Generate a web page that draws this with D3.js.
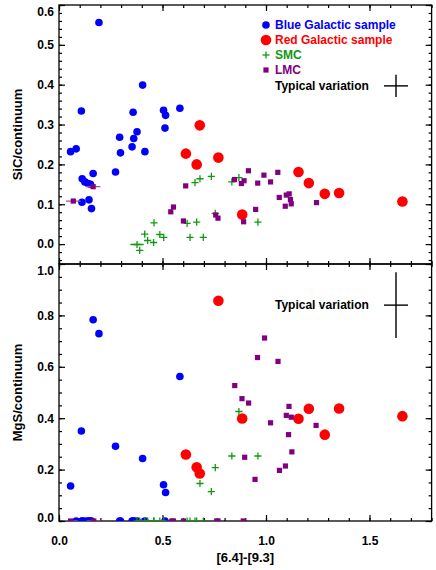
<!DOCTYPE html>
<html>
<head>
<meta charset="utf-8">
<script src="https://cdn.jsdelivr.net/npm/d3@7"></script>
<style>
  body { margin: 0; background: #fff; }
  text { font-family: "Liberation Sans", Arial, sans-serif; font-weight: bold; }
</style>
</head>
<body>
<div id="chart"></div>
<script>
// Blue Galactic sample (same stars in both panels)
const blueX   = [0.193,0.056,0.083,0.108,0.112,0.125,0.140,0.152,0.165,0.111,0.145,0.157,0.273,0.293,0.297,0.353,0.358,0.361,0.377,0.404,0.415,0.505,0.515,0.512,0.584];
const blueSiC = [0.556,0.232,0.239,0.334,0.164,0.156,0.152,0.150,0.177,0.105,0.111,0.089,0.181,0.268,0.229,0.244,0.331,0.265,0.282,0.399,0.232,0.336,0.323,0.291,0.341];
const blueMgS = [0.729,0.136,0,0.350,0,0,0,0,0.783,0,0,0,0.291,0,0,0,0,0,0,0.243,0,0.141,0.111,0,0.562];

// Red Galactic sample
const redX   = [0.613,0.665,0.680,0.770,0.885,1.157,1.207,1.284,1.353,1.659];
const redSiC = [0.227,0.200,0.298,0.217,0.074,0.181,0.153,0.126,0.128,0.107];
const redMgS = [0.259,0.209,0.185,0.857,0.399,0.398,0.437,0.336,0.438,0.408];

// SMC
const smcX      = [0.377,0.390,0.414,0.428,0.459,0.457,0.487,0.506,0.619,0.633,0.665,0.697,0.657,0.681,0.736,0.755,0.835,0.869,0.961];
const smcSiC    = [-0.001,-0.016,0.025,0.009,0.053,0.004,0.024,0.017,0.052,0.017,0.055,0.017,0.154,0.164,0.170,0.077,0.156,0.167,0.055];
const smcMgS    = [0,0,0,0,0,0,0,0,0,0,0,0,0,0.146,0.114,0.208,0.253,0.426,0.253];
const smcMgSErr = [0.02,0.02,0.02,0.02,0.02,0.02,0.02,0.02,0.02,0.02,0.02,0.02,0.02,0.015,0.02,0.045,0.028,0.02,0.028];
const smcSiCErr = [[0, 0.032, 0.018]]; // [index, xerr, yerr]

// LMC
const lmcTopX   = [0.069,0.165,0.553,0.540,0.601,0.612,0.757,0.768,0.848,0.881,0.894,0.892,0.915,0.950,0.960,0.990,1.022,1.057,1.064,1.098,1.112,1.118,1.122,1.093,1.244];
const lmcSiC    = [0.108,0.144,0.093,0.081,0.058,0.146,0.073,0.065,0.162,0.152,0.159,0.056,0.184,0.087,0.153,0.173,0.156,0.180,0.117,0.123,0.126,0.112,0.101,0.095,0.104];
const lmcSiCErr = [[0, 0.035, 0], [1, 0.035, 0.02]];
const lmcBotX   = [0.993,0.959,1.058,0.849,0.884,0.916,1.111,1.098,1.122,1.022,1.242,1.109,1.125,0.897,1.094,1.065,0.947,0.056,0.168,0.545,0.553,0.601,0.762,0.768,0.890];
const lmcMgS    = [0.712,0.636,0.621,0.527,0.476,0.459,0.446,0.411,0.404,0.382,0.372,0.336,0.269,0.248,0.214,0.197,0.162,0,0,0,0,0,0,0,0];
const lmcMgSErr = [[2, 0, 0.012], [5, 0, 0.01], [13, 0, 0.01], [17, 0.035, 0], [18, 0.035, 0]];

// typical variation crosses [x, y, xerr, yerr]
const typTop = [1.628, 0.397, 0.058, 0.028];
const typBot = [1.628, 0.840, 0.058, 0.128];

// ticks
const xMajor = [0, 0.5, 1.0, 1.5];
const xMinor = d3.range(0, 1.81, 0.1);
const topMajor = [0.0, 0.1, 0.2, 0.3, 0.4, 0.5, 0.6];
const topMinor = d3.range(-0.04, 0.61, 0.02);
const botMajor = [0.0, 0.2, 0.4, 0.6, 0.8, 1.0];
const botMinor = d3.range(0, 1.01, 0.05);

const w = 436, h = 570;
const L = 59, R = 431.6, T = 5, M = 264, B = 521;

const blue = "#0000ff", red = "#ff0000", green = "#119911", purple = "#800080";

const svg = d3.select("#chart").append("svg")
  .attr("width", w).attr("height", h);

const x = d3.scaleLinear().domain([0, 1.8]).range([L, R]);
const yTop = d3.scaleLinear().domain([-0.05, 0.6]).range([M, T]);
const yBot = d3.scaleLinear().domain([0, 1.0]).range([B, M]);

let defs = svg.append("defs");
defs.append("clipPath").attr("id", "clipTop").append("rect")
  .attr("x", L).attr("y", T).attr("width", R - L).attr("height", M - T);
defs.append("clipPath").attr("id", "clipBot").append("rect")
  .attr("x", L).attr("y", M).attr("width", R - L).attr("height", B - M);

// draws the frame and inward ticks of one panel
const drawAxes = (y, top, bottom, majors, minors, xLabels) => {
  let g = svg.append("g");

  let clampY = d => Math.min(Math.max(y(d), top + 7), bottom - 3.5) - y(d);

  // left
  g.append("g").attr("transform", `translate(${L},0)`)
    .call(d3.axisLeft(y).tickValues(minors).tickSize(-3).tickSizeOuter(0).tickFormat(""));
  g.append("g").attr("transform", `translate(${L},0)`)
    .call(d3.axisLeft(y).tickValues(majors).tickSize(-6).tickSizeOuter(0).tickPadding(5).tickFormat(d3.format(".1f")))
    .selectAll("text").attr("y", d => clampY(d));
  // right
  g.append("g").attr("transform", `translate(${R},0)`)
    .call(d3.axisRight(y).tickValues(minors).tickSize(-3).tickSizeOuter(0).tickFormat(""));
  g.append("g").attr("transform", `translate(${R},0)`)
    .call(d3.axisRight(y).tickValues(majors).tickSize(-6).tickSizeOuter(0).tickFormat(""));
  // bottom
  g.append("g").attr("transform", `translate(0,${bottom})`)
    .call(d3.axisBottom(x).tickValues(xMinor).tickSize(-3).tickSizeOuter(0).tickFormat(""));
  g.append("g").attr("transform", `translate(0,${bottom})`)
    .call(d3.axisBottom(x).tickValues(xMajor).tickSize(-6).tickSizeOuter(0).tickPadding(15)
      .tickFormat(xLabels ? d3.format(".1f") : ""));
  // top
  g.append("g").attr("transform", `translate(0,${top})`)
    .call(d3.axisTop(x).tickValues(xMinor).tickSize(-3).tickSizeOuter(0).tickFormat(""));
  g.append("g").attr("transform", `translate(0,${top})`)
    .call(d3.axisTop(x).tickValues(xMajor).tickSize(-6).tickSizeOuter(0).tickFormat(""));

  g.selectAll(".domain").remove();
  g.selectAll(".tick line").attr("stroke", "#000").attr("stroke-width", 1.2);
  g.selectAll(".tick text").attr("fill", "#000").style("font-size", "12px")
    .style("font-family", "'Liberation Sans', Arial, sans-serif").style("font-weight", "bold");

  g.append("rect")
    .attr("x", L).attr("y", top).attr("width", R - L).attr("height", bottom - top)
    .attr("fill", "none").attr("stroke", "#000").attr("stroke-width", 1.3);
};

const errBars = (g, px, py, xe, ye, color, sw) => {
  if (xe > 0) {
    g.append("line").attr("x1", x(px - xe)).attr("x2", x(px + xe))
      .attr("y1", py).attr("y2", py).attr("stroke", color).attr("stroke-width", sw);
  }
  if (ye > 0) {
    g.append("line").attr("x1", x(px)).attr("x2", x(px))
      .attr("y1", ye[0]).attr("y2", ye[1]).attr("stroke", color).attr("stroke-width", sw);
  }
};

const plus = (g, cx, cy, s, color, sw) => {
  g.append("line").attr("x1", cx - s).attr("x2", cx + s).attr("y1", cy).attr("y2", cy)
    .attr("stroke", color).attr("stroke-width", sw);
  g.append("line").attr("x1", cx).attr("x2", cx).attr("y1", cy - s).attr("y2", cy + s)
    .attr("stroke", color).attr("stroke-width", sw);
};

const drawPanel = (clip, y, bY, rY, sY, sErrY, sErrList, lX, lY, lErrList, typ) => {
  let g = svg.append("g").attr("clip-path", `url(#${clip})`);

  g.selectAll(".blue").data(blueX).enter().append("circle")
    .attr("cx", d => x(d)).attr("cy", (d, i) => y(bY[i])).attr("r", 3.8).attr("fill", blue);

  g.selectAll(".red").data(redX).enter().append("circle")
    .attr("cx", d => x(d)).attr("cy", (d, i) => y(rY[i])).attr("r", 5.3).attr("fill", red);

  // SMC error bars then plus markers
  smcX.forEach((d, i) => {
    if (sErrY && sErrY[i] > 0) {
      errBars(g, d, y(sY[i]), 0, [y(sY[i] - sErrY[i]), y(sY[i] + sErrY[i])], green, 1.2);
    }
  });
  sErrList.forEach(([i, xe, ye]) => {
    errBars(g, smcX[i], y(sY[i]), xe, ye > 0 ? [y(sY[i] - ye), y(sY[i] + ye)] : 0, green, 1.3);
  });
  smcX.forEach((d, i) => plus(g, x(d), y(sY[i]), 3.6, green, 1.3));

  // LMC
  lErrList.forEach(([i, xe, ye]) => {
    errBars(g, lX[i], y(lY[i]), xe, ye > 0 ? [y(lY[i] - ye), y(lY[i] + ye)] : 0, "#a050a0", 1.3);
  });
  g.selectAll(".lmc").data(lX).enter().append("rect")
    .attr("x", d => x(d) - 2.6).attr("y", (d, i) => y(lY[i]) - 2.6)
    .attr("width", 5.2).attr("height", 5.2).attr("fill", purple);

  // typical variation
  let [tx, ty, txe, tye] = typ;
  svg.append("line").attr("x1", x(tx - txe)).attr("x2", x(tx + txe))
    .attr("y1", y(ty)).attr("y2", y(ty)).attr("stroke", "#000").attr("stroke-width", 1.4);
  svg.append("line").attr("x1", x(tx)).attr("x2", x(tx))
    .attr("y1", y(ty - tye)).attr("y2", y(ty + tye)).attr("stroke", "#000").attr("stroke-width", 1.4);
  svg.append("text").attr("x", x(tx) - 121).attr("y", y(ty)).attr("dy", "0.35em")
    .style("font-size", "12px").attr("fill", "#000").text("Typical variation");
};

drawAxes(yTop, T, M, topMajor, topMinor, false);
drawAxes(yBot, M, B, botMajor, botMinor, true);

drawPanel("clipTop", yTop, blueSiC, redSiC, smcSiC, null, smcSiCErr, lmcTopX, lmcSiC, lmcSiCErr, typTop);
drawPanel("clipBot", yBot, blueMgS, redMgS, smcMgS, smcMgSErr, [], lmcBotX, lmcMgS, lmcMgSErr, typBot);

// legend
let legend = svg.append("g");
let legendItems = [
  ["Blue Galactic sample", blue, "circle", 3.8],
  ["Red Galactic sample", red, "circle", 5.3],
  ["SMC", green, "plus", 3.6],
  ["LMC", purple, "square", 2.6]
];
legendItems.forEach(([label, color, shape, s], i) => {
  let ly = 25 + i * 15;
  if (shape == "circle") {
    legend.append("circle").attr("cx", 266).attr("cy", ly).attr("r", s).attr("fill", color);
  } else if (shape == "plus") {
    plus(legend, 266, ly, s, color, 1.3);
  } else {
    legend.append("rect").attr("x", 266 - s).attr("y", ly - s)
      .attr("width", 2 * s).attr("height", 2 * s).attr("fill", color);
  }
  legend.append("text").attr("x", 275).attr("y", ly).attr("dy", "0.35em")
    .style("font-size", "12px").attr("fill", color).text(label);
});

// axis titles
svg.append("text")
  .attr("transform", `translate(22,${(T + M) / 2}) rotate(-90)`)
  .attr("text-anchor", "middle").style("font-size", "13px").text("SiC/continuum");
svg.append("text")
  .attr("transform", `translate(22,${(M + B) / 2}) rotate(-90)`)
  .attr("text-anchor", "middle").style("font-size", "13px").text("MgS/continuum");
svg.append("text")
  .attr("x", (L + R) / 2).attr("y", 562)
  .attr("text-anchor", "middle").style("font-size", "13px").text("[6.4]-[9.3]");
</script>
</body>
</html>
